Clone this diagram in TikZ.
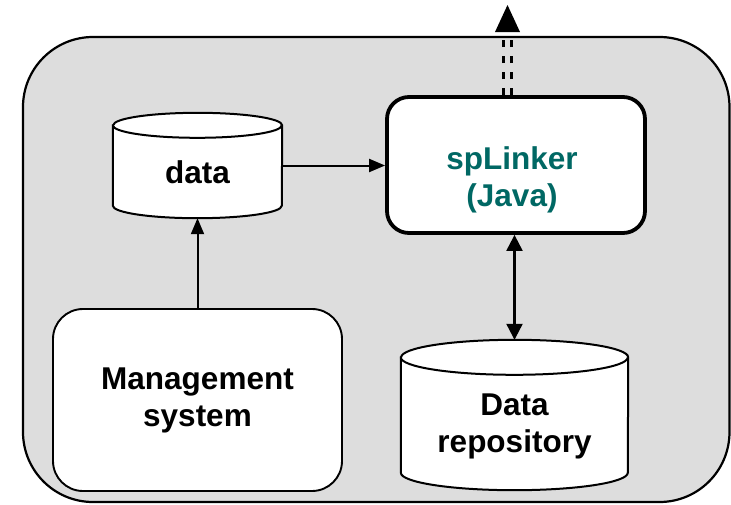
\documentclass[tikz,border=0pt]{standalone}
\usepackage{fontspec}
\setmainfont{Liberation Sans}
\usetikzlibrary{arrows.meta,calc}
\definecolor{bggray}{RGB}{221,221,221}
\definecolor{spteal}{RGB}{0,104,100}
\newcommand\drawcyl[3]{%
  \filldraw[cylline] ([yshift=-#3pt]#1.north west) -- ([yshift=#3pt]#1.south west)
    arc[start angle=180,end angle=360,x radius=#2pt,y radius=#3pt]
    -- ([yshift=-#3pt]#1.north east)
    arc[start angle=0,end angle=180,x radius=#2pt,y radius=#3pt] -- cycle;
  \draw[cylline] ([yshift=-#3pt]#1.north west)
    arc[start angle=180,end angle=360,x radius=#2pt,y radius=#3pt];
}
\begin{document}
\begin{tikzpicture}[x=1pt,y=-1pt,
  container/.style={draw, line width=2.2pt, fill=bggray, rounded corners=70pt,
    minimum width=706.5pt, minimum height=465pt, inner sep=0pt},
  spbox/.style={draw, line width=3.8pt, fill=white, rounded corners=22pt,
    minimum width=258pt, minimum height=136pt, inner sep=0pt},
  mgbox/.style={draw, line width=1.9pt, fill=white, rounded corners=30pt,
    minimum width=289pt, minimum height=182pt, inner sep=0pt},
  cylline/.style={line width=2pt, fill=white},
  lbl/.style={font=\fontsize{31.5}{37}\selectfont\bfseries, align=center, inner sep=0pt},
  arr/.style={line width=2pt, -{Triangle[length=16pt,width=13pt]}},
  dblarr/.style={line width=2.2pt, {Triangle[length=16pt,width=16pt]}-{Triangle[length=16pt,width=16pt]}},
  dashline/.style={line width=2.8pt, dash pattern=on 7pt off 9pt}
]
\useasboundingbox (0,0) rectangle (731,504);
\node[container] (sys) at (376.25,269.5) {};

% data cylinder
\node[minimum width=169pt, minimum height=105pt, inner sep=0pt] (data) at (197.5,165.5) {};
\drawcyl{data}{84.5}{12.5}
\node[lbl] (datatext) at (197.5,172) {data};

% spLinker
\node[spbox] (sp) at (516,165) {};
\node[lbl, text=spteal] (sptext) at (512,180) {spLinker\\(Java)};

% management system
\node[mgbox] (mg) at (197.5,400) {};
\node[lbl] (mgtext) at (197.5,400) {Management\\system};

% data repository
\node[minimum width=227pt, minimum height=150pt, inner sep=0pt] (repo) at (514.5,415) {};
\drawcyl{repo}{113.5}{17.5}
\node[lbl] (repotext) at (514.5,426) {Data\\repository};

% connectors
\draw[arr] (data.east) -- (data.east -| sp.west);
\draw[arr] (mg.north) -- (data.south);
\draw[dblarr] (repo.north |- sp.south) -- (repo.north);

% dashed double output arrow
\coordinate (tip) at (507.5,5);
\coordinate (upbase) at (sp.north -| tip);
\draw[dashline] ([xshift=-4pt]upbase) -- ([xshift=-4pt,yshift=-27pt]tip);
\draw[dashline] ([xshift=4pt]upbase) -- ([xshift=4pt,yshift=-27pt]tip);
\fill (tip) -- ++(-12.5,27) -- ++(25,0) -- cycle;
\end{tikzpicture}
\end{document}
